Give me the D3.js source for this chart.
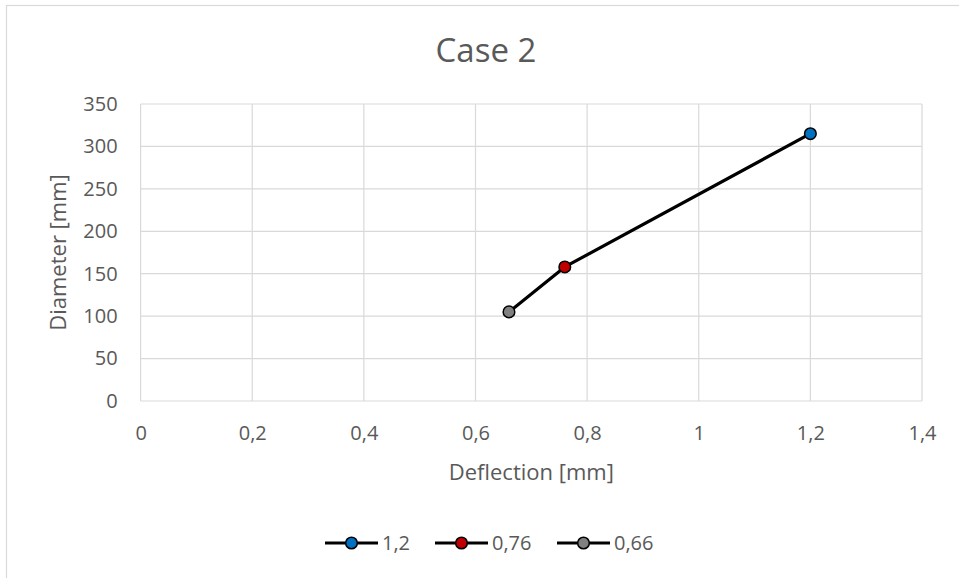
<!DOCTYPE html>
<html>
<head>
<meta charset="utf-8">
<script src="https://cdn.jsdelivr.net/npm/d3@7"></script>
<style>
  html, body { margin: 0; padding: 0; background: #fff; }
  svg { display: block; }
  text { font-family: "Open Sans", sans-serif; fill: #595959; }
</style>
</head>
<body>
<svg id="chart" width="959" height="578"></svg>
<script>
// ---- data ----
const deflection = [1.2, 0.76, 0.66];
const diameter = [315, 158, 105];
const pointLabels = ["1,2", "0,76", "0,66"];
const pointColors = ["#0070C0", "#C00000", "#808080"];
const xTicks = [0, 0.2, 0.4, 0.6, 0.8, 1, 1.2, 1.4];
const yTicks = [0, 50, 100, 150, 200, 250, 300, 350];
const titleText = "Case 2";
const xTitle = "Deflection [mm]";
const yTitle = "Diameter [mm]";

const svg = d3.select("#chart");
const W = 959, H = 578;
const plot = { left: 140.6, right: 922, top: 104, bottom: 401 };

const locale = d3.formatLocale({ decimal: ",", thousands: ".", grouping: [3], currency: ["", ""] });
const fmt = locale.format("~g");

const x = d3.scaleLinear().domain([0, 1.4]).range([plot.left, plot.right]);
const y = d3.scaleLinear().domain([0, 350]).range([plot.bottom, plot.top]);

// chart border
svg.append("rect")
  .attr("x", 6.5).attr("y", 5.5)
  .attr("width", 1000).attr("height", 1000)
  .attr("fill", "#fff").attr("stroke", "#d9d9d9").attr("stroke-width", 1.2);

// gridlines
const grid = svg.append("g");
grid.selectAll(".gx").data(xTicks).join("line")
  .attr("x1", d => x(d)).attr("x2", d => x(d))
  .attr("y1", plot.top).attr("y2", plot.bottom)
  .attr("stroke", "#d9d9d9").attr("stroke-width", 1.2);
grid.selectAll(".gy").data(yTicks).join("line")
  .attr("x1", plot.left).attr("x2", plot.right)
  .attr("y1", d => y(d)).attr("y2", d => y(d))
  .attr("stroke", "#d9d9d9").attr("stroke-width", 1.2);

// axes (labels only)
const xAxis = svg.append("g")
  .attr("transform", `translate(0,${plot.bottom})`)
  .call(d3.axisBottom(x).tickValues(xTicks).tickFormat(fmt).tickSize(0).tickPadding(25));
const yAxis = svg.append("g")
  .attr("transform", `translate(${plot.left},0)`)
  .call(d3.axisLeft(y).tickValues(yTicks).tickFormat(fmt).tickSize(0).tickPadding(23));
[xAxis, yAxis].forEach(a => {
  a.select(".domain").remove();
  a.selectAll("text")
    .style("font-family", '"Open Sans", sans-serif')
    .style("font-size", "20px")
    .attr("fill", "#595959");
});

// title
svg.append("text")
  .attr("x", 486).attr("y", 62)
  .attr("text-anchor", "middle")
  .style("font-size", "33px")
  .text(titleText);

// axis titles
svg.append("text")
  .attr("x", (plot.left + plot.right) / 2).attr("y", 480)
  .attr("text-anchor", "middle")
  .style("font-size", "22px")
  .text(xTitle);
svg.append("text")
  .attr("transform", `translate(66,${(plot.top + plot.bottom) / 2}) rotate(-90)`)
  .attr("text-anchor", "middle")
  .style("font-size", "22px")
  .text(yTitle);

// series line
const pts = deflection.map((d, i) => ({ x: d, y: diameter[i], c: pointColors[i], l: pointLabels[i] }));
const line = d3.line().x(d => x(d.x)).y(d => y(d.y));
svg.append("path")
  .datum(pts)
  .attr("d", line)
  .attr("fill", "none")
  .attr("stroke", "#000")
  .attr("stroke-width", 3.2)
  .attr("stroke-linejoin", "round");

svg.selectAll(".pt").data(pts).join("circle")
  .attr("cx", d => x(d.x)).attr("cy", d => y(d.y))
  .attr("r", 5.8)
  .attr("fill", d => d.c)
  .attr("stroke", "#000").attr("stroke-width", 1.5);

// legend
const legendX = [325, 435, 557];
const legendY = 543;
const lg = svg.append("g");
const items = lg.selectAll("g").data(pts).join("g")
  .attr("transform", (d, i) => `translate(${legendX[i]},${legendY})`);
items.append("line")
  .attr("x1", 0).attr("x2", 53).attr("y1", 0).attr("y2", 0)
  .attr("stroke", "#000").attr("stroke-width", 3.2);
items.append("circle")
  .attr("cx", 26.5).attr("cy", 0).attr("r", 5.8)
  .attr("fill", d => d.c).attr("stroke", "#000").attr("stroke-width", 1.5);
items.append("text")
  .attr("x", 57).attr("y", 7)
  .style("font-size", "20px")
  .text(d => d.l);
</script>
</body>
</html>
